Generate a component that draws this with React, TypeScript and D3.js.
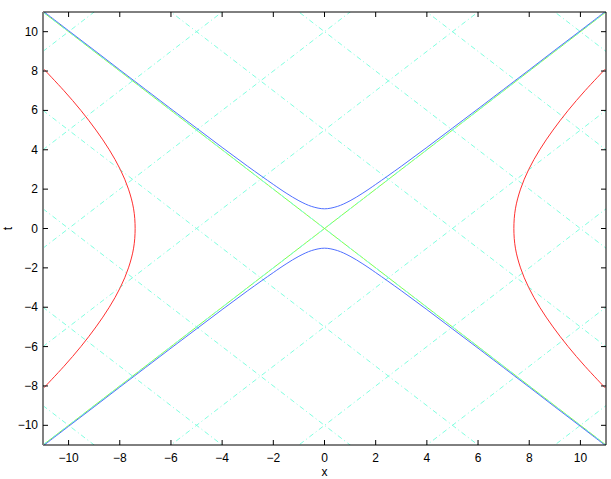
import React from "react";
import * as d3 from "d3";

const xTicks = [-10, -8, -6, -4, -2, 0, 2, 4, 6, 8, 10];
const tTicks = [-10, -8, -6, -4, -2, 0, 2, 4, 6, 8, 10];
const gridOffsets = [-20, -15, -10, -5, 0, 5, 10, 15, 20];
const coneSlopes = [1, -1];

const blueX = [-11, -10, -9, -8, -7, -6, -5, -4, -3, -2, -1.5, -1, -0.5, 0, 0.5, 1, 1.5, 2, 3, 4, 5, 6, 7, 8, 9, 10, 11];
const blueT = [11.05, 10.05, 9.06, 8.06, 7.07, 6.08, 5.1, 4.12, 3.16, 2.24, 1.8, 1.41, 1.12, 1.0, 1.12, 1.41, 1.8, 2.24, 3.16, 4.12, 5.1, 6.08, 7.07, 8.06, 9.06, 10.05, 11.05];

const redT = [-8.1, -7, -6, -5, -4, -3, -2, -1, 0, 1, 2, 3, 4, 5, 6, 7, 8.1];
const redX = [10.97, 10.18, 9.52, 8.93, 8.41, 7.98, 7.66, 7.46, 7.4, 7.46, 7.66, 7.98, 8.41, 8.93, 9.52, 10.18, 10.97];

const W = 611, H = 479;
const L = 43, R = 606, T = 12, B = 445;

export default function App() {
  const x = d3.scaleLinear().domain([-11, 11]).range([L, R]);
  const y = d3.scaleLinear().domain([-11, 11]).range([B, T]);
  const line = d3.line<[number, number]>().x(d => x(d[0])).y(d => y(d[1]));
  const curve = d3.line<[number, number]>().x(d => x(d[0])).y(d => y(d[1])).curve(d3.curveCatmullRom);

  const diag = (s: number, c: number): [number, number][] => [[-11, s * -11 + c], [11, s * 11 + c]];
  const blue1 = blueX.map((v, i) => [v, blueT[i]] as [number, number]);
  const blue2 = blueX.map((v, i) => [v, -blueT[i]] as [number, number]);
  const red1 = redT.map((v, i) => [redX[i], v] as [number, number]);
  const red2 = redT.map((v, i) => [-redX[i], v] as [number, number]);

  const font = "'Liberation Sans', Arial, Helvetica, sans-serif";
  const fmt = (v: number) => (v < 0 ? "\u2212" + Math.abs(v) : String(v));

  return (
    <svg width={W} height={H} style={{ position: "absolute", left: 0, top: 0, background: "#fff" }}>
      <defs>
        <clipPath id="plot">
          <rect x={L} y={T} width={R - L} height={B - T} />
        </clipPath>
      </defs>
      <rect x={0} y={0} width={W} height={H} fill="#fff" />
      <g clipPath="url(#plot)" fill="none">
        {coneSlopes.map(s => (
          <path key={"g" + s} d={line(diag(s, 0)) || ""} stroke="#80ff40" strokeWidth={1} />
        ))}
        {coneSlopes.map(s =>
          gridOffsets.map(c => (
            <path key={"c" + s + "_" + c} d={line(diag(s, c)) || ""} stroke="#80ffe0" strokeWidth={1} strokeDasharray="5,3,1,3" />
          ))
        )}
        <path d={curve(blue1) || ""} stroke="#5070ff" strokeWidth={1} />
        <path d={curve(blue2) || ""} stroke="#5070ff" strokeWidth={1} />
        <path d={curve(red1) || ""} stroke="#ff3030" strokeWidth={1} />
        <path d={curve(red2) || ""} stroke="#ff3030" strokeWidth={1} />
      </g>
      {/* box */}
      <line x1={L} x2={R} y1={T} y2={T} stroke="#000" />
      <line x1={L} x2={R} y1={B} y2={B} stroke="#000" />
      <line x1={R} x2={R} y1={T} y2={B} stroke="#000" />
      <line x1={L} x2={L} y1={T} y2={B} stroke="#808080" strokeWidth={2} />
      {xTicks.map(v => (
        <g key={"x" + v}>
          <line x1={x(v)} x2={x(v)} y1={B} y2={B - 5} stroke="#000" />
          <line x1={x(v)} x2={x(v)} y1={T} y2={T + 5} stroke="#000" />
          <text x={x(v)} y={B + 17} textAnchor="middle" fontFamily={font} fontSize={12}>{fmt(v)}</text>
        </g>
      ))}
      {tTicks.map(v => (
        <g key={"t" + v}>
          <line x1={L} x2={L + 5} y1={y(v)} y2={y(v)} stroke="#000" />
          <line x1={R} x2={R - 5} y1={y(v)} y2={y(v)} stroke="#000" />
          <text x={L - 5} y={y(v) + 4} textAnchor="end" fontFamily={font} fontSize={12}>{fmt(v)}</text>
        </g>
      ))}
      <text x={(L + R) / 2} y={476} textAnchor="middle" fontFamily={font} fontSize={12}>x</text>
      <text transform={`translate(12,${(T + B) / 2}) rotate(-90)`} textAnchor="middle" fontFamily={font} fontSize={12}>t</text>
    </svg>
  );
}
